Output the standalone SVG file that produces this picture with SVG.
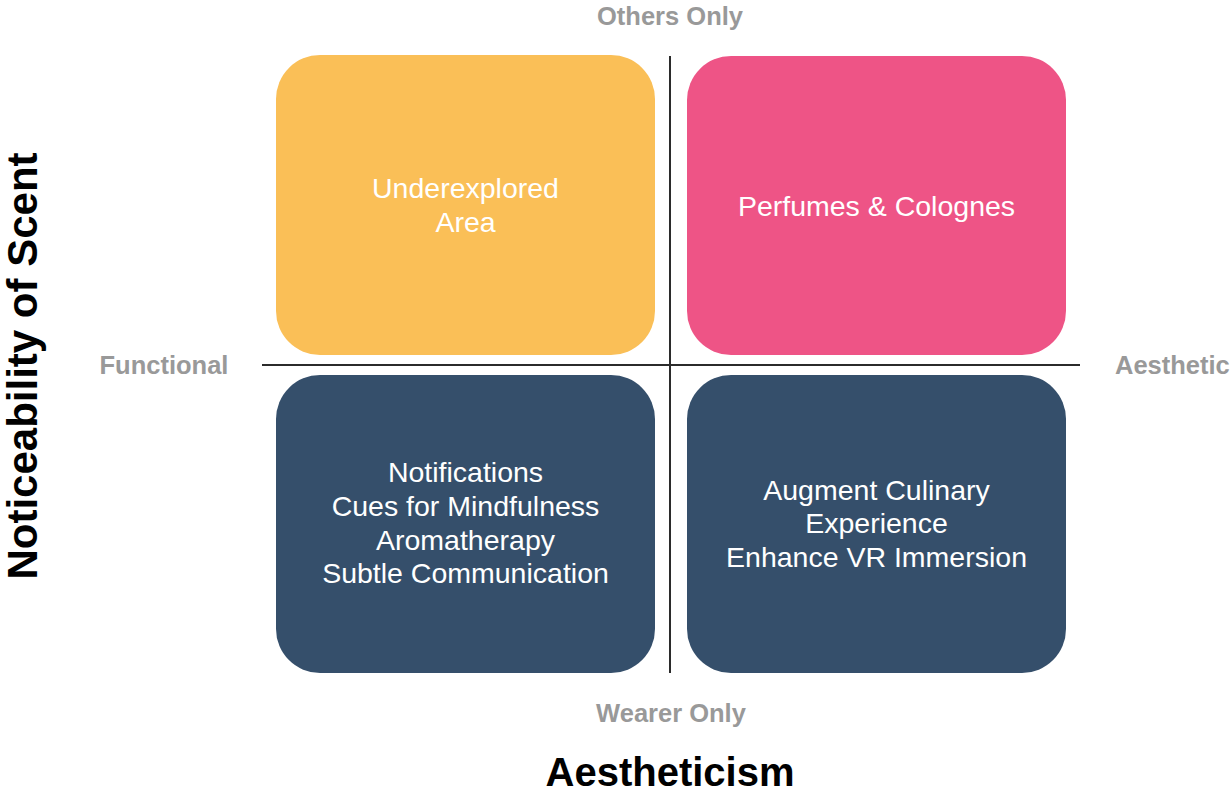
<svg xmlns="http://www.w3.org/2000/svg" width="1232" height="796" viewBox="0 0 1232 796">
<style>
.box-t{font-family:"Liberation Sans",Arial,sans-serif;font-size:28.5px;fill:#ffffff;text-anchor:middle}
.ax{font-family:"Liberation Sans",Arial,sans-serif;font-size:25.5px;font-weight:bold;fill:#999999;text-anchor:middle}
.title{font-family:"Liberation Sans",Arial,sans-serif;font-weight:bold;fill:#000000;text-anchor:middle}
.axis{stroke:#2b2b2b;stroke-width:2;fill:none}
</style>
<rect width="1232" height="796" fill="#ffffff"/>
<g id="q-underexplored">
<rect x="276" y="55" width="379" height="300" rx="44" fill="#FABF57"/>
<text class="box-t" x="465.5" y="198">Underexplored</text>
<text class="box-t" x="465.5" y="232">Area</text>
</g>
<g id="q-perfumes">
<rect x="687" y="56" width="379" height="299" rx="44" fill="#EE5486"/>
<text class="box-t" x="876.5" y="216">Perfumes &amp; Colognes</text>
</g>
<g id="q-functional-wearer">
<rect x="276" y="375" width="379" height="298" rx="44" fill="#354F6B"/>
<text class="box-t" x="465.5" y="482">Notifications</text>
<text class="box-t" x="465.5" y="516">Cues for Mindfulness</text>
<text class="box-t" x="465.5" y="550">Aromatherapy</text>
<text class="box-t" x="465.5" y="583">Subtle Communication</text>
</g>
<g id="q-aesthetic-wearer">
<rect x="687" y="375" width="379" height="298" rx="44" fill="#354F6B"/>
<text class="box-t" x="876.5" y="500">Augment Culinary</text>
<text class="box-t" x="876.5" y="533">Experience</text>
<text class="box-t" x="876.5" y="567">Enhance VR Immersion</text>
</g>
<g id="axes">
<line class="axis" x1="262" y1="365" x2="1080" y2="365"/>
<line class="axis" x1="670" y1="56" x2="670" y2="673"/>
</g>
<g id="axis-labels">
<text class="ax" x="670" y="25">Others Only</text>
<text class="ax" x="671" y="722">Wearer Only</text>
<text class="ax" x="164" y="374">Functional</text>
<text class="ax" x="1115" y="374" style="text-anchor:start">Aesthetic</text>
<text class="title" x="670" y="786" font-size="40">Aestheticism</text>
<text class="title" font-size="42" transform="translate(37,366) rotate(-90)">Noticeability of Scent</text>
</g>
</svg>
